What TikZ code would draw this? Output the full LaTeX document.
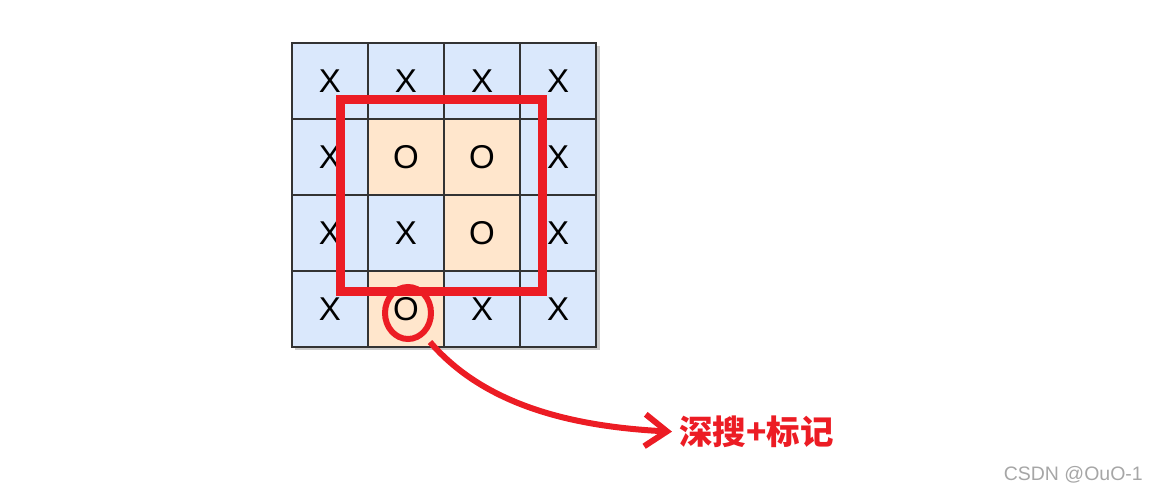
\documentclass[tikz,border=0pt]{standalone}
\usepackage{fontspec}
\setmainfont{Liberation Sans}
\newfontfamily\cjkfont{Noto Sans CJK SC}
\usetikzlibrary{arrows.meta, shapes.geometric}
\definecolor{cellblue}{HTML}{DAE8FC}
\definecolor{cellorange}{HTML}{FFE6CC}
\definecolor{markred}{HTML}{EC1C24}

\begin{document}
\begin{tikzpicture}[x=1pt, y=-1pt,
    cellx/.style={draw=black!80, line width=1.2pt, fill=cellblue, minimum size=76pt, inner sep=0pt, font=\fontsize{33}{33}\selectfont},
    cello/.style={cellx, fill=cellorange},
    redmark/.style={draw=markred, line width=9pt}
  ]
  \useasboundingbox (0,0) rectangle (1151,496);

  % Board shadow
  \fill[black!20] (295,46) rectangle (600,350);

  % Row 1
  \node[cellx] (c11) at (330,81) {X};
  \node[cellx] (c12) at (406,81) {X};
  \node[cellx] (c13) at (482,81) {X};
  \node[cellx] (c14) at (558,81) {X};
  % Row 2
  \node[cellx] (c21) at (330,157) {X};
  \node[cello] (c22) at (406,157) {O};
  \node[cello] (c23) at (482,157) {O};
  \node[cellx] (c24) at (558,157) {X};
  % Row 3
  \node[cellx] (c31) at (330,233) {X};
  \node[cellx] (c32) at (406,233) {X};
  \node[cello] (c33) at (482,233) {O};
  \node[cellx] (c34) at (558,233) {X};
  % Row 4
  \node[cellx] (c41) at (330,309) {X};
  \node[cello] (c42) at (406,309) {O};
  \node[cellx] (c43) at (482,309) {X};
  \node[cellx] (c44) at (558,309) {X};

  % Inner region and the border O
  \node[redmark, minimum width=202pt, minimum height=192pt] (region) at (441,195) {};
  \node[ellipse, draw=markred, line width=6pt, minimum width=46pt, minimum height=52pt, inner sep=0pt] (edge) at (408,313) {};

  % Label and arrow
  \node[anchor=west, inner sep=0pt, text=markred, font=\cjkfont\bfseries\fontsize{33.5}{36}\selectfont] (dfs) at (679,432) {深搜+标记};
  \coordinate (start) at (430,342);
  \draw[markred, line width=6pt, -{Straight Barb[length=22pt, width=32pt]}, shorten >=7pt]
    (start) .. controls (480,400) and (560,426) .. (dfs.west);

  % Watermark
  \node[anchor=east, inner sep=0pt, text=black!35, font=\fontsize{19.5}{20}\selectfont] (mark) at (1143,475) {CSDN @OuO-1};
\end{tikzpicture}
\end{document}
